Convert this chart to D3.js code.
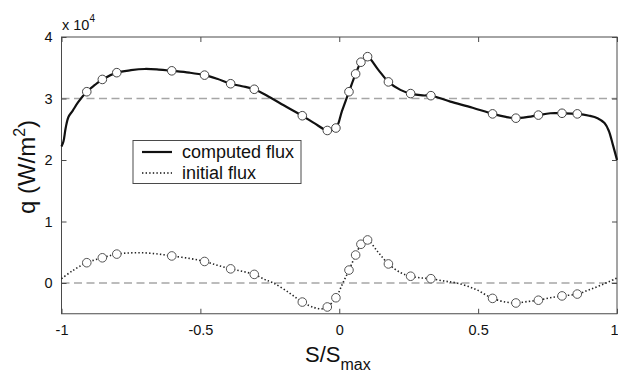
<!DOCTYPE html>
<html>
<head>
<meta charset="utf-8">
<script src="https://cdn.jsdelivr.net/npm/d3@7"></script>
<style>
  html, body { margin: 0; padding: 0; background: #fff; }
  svg { display: block; font-family: "Liberation Sans", Arial, Helvetica, sans-serif; }
</style>
</head>
<body>
<svg id="chart" width="618" height="373"></svg>
<script>
// Normalised arc length S/Smax and heat flux q (units of 1e4 W/m^2)
const computedS = [-1.000, -0.993, -0.985, -0.975, -0.960, -0.940, -0.909, -0.880, -0.853, -0.801,
  -0.750, -0.700, -0.650, -0.603, -0.540, -0.485, -0.440, -0.391, -0.350, -0.306,
  -0.250, -0.200, -0.133, -0.090, -0.043, -0.012, 0.010, 0.035, 0.059, 0.078,
  0.090, 0.102, 0.140, 0.177, 0.220, 0.257, 0.300, 0.330, 0.400, 0.480,
  0.552, 0.600, 0.636, 0.680, 0.717, 0.760, 0.802, 0.857, 0.900, 0.930,
  0.955, 0.970, 0.985, 1.000];
const computedQ = [2.22, 2.30, 2.52, 2.70, 2.80, 2.94, 3.11, 3.22, 3.31, 3.42,
  3.46, 3.48, 3.47, 3.45, 3.42, 3.38, 3.32, 3.24, 3.20, 3.15,
  3.02, 2.89, 2.72, 2.60, 2.48, 2.52, 2.80, 3.11, 3.40, 3.59,
  3.65, 3.68, 3.47, 3.27, 3.14, 3.08, 3.05, 3.046, 2.95, 2.85,
  2.75, 2.70, 2.68, 2.70, 2.73, 2.76, 2.76, 2.75, 2.72, 2.68,
  2.60, 2.48, 2.25, 2.00];

const initialS = [-1.000, -0.960, -0.909, -0.853, -0.801, -0.750, -0.700, -0.650, -0.603, -0.540,
  -0.485, -0.440, -0.391, -0.350, -0.306, -0.270, -0.237, -0.180, -0.133, -0.090,
  -0.060, -0.043, -0.012, 0.010, 0.035, 0.059, 0.078, 0.090, 0.102, 0.140,
  0.177, 0.220, 0.257, 0.300, 0.330, 0.380, 0.423, 0.490, 0.552, 0.600,
  0.636, 0.680, 0.717, 0.760, 0.802, 0.857, 0.900, 0.950, 1.000];
const initialQ = [0.07, 0.20, 0.33, 0.41, 0.47, 0.49, 0.49, 0.47, 0.44, 0.40,
  0.35, 0.29, 0.23, 0.19, 0.14, 0.06, 0.00, -0.16, -0.31, -0.40,
  -0.42, -0.39, -0.24, -0.03, 0.21, 0.455, 0.63, 0.68, 0.70, 0.50,
  0.31, 0.17, 0.11, 0.08, 0.07, 0.03, 0.00, -0.10, -0.25, -0.31,
  -0.325, -0.30, -0.28, -0.24, -0.21, -0.18, -0.11, -0.02, 0.08];

// Sensor locations (circle markers) and the flux at each
const sensorS = [-0.909, -0.853, -0.801, -0.603, -0.485, -0.391, -0.306, -0.133, -0.043, -0.012,
  0.035, 0.059, 0.078, 0.102, 0.177, 0.257, 0.330, 0.552, 0.636, 0.717, 0.802, 0.857];
const sensorComputed = [3.11, 3.31, 3.42, 3.45, 3.38, 3.24, 3.15, 2.72, 2.48, 2.52,
  3.11, 3.40, 3.59, 3.68, 3.27, 3.08, 3.046, 2.75, 2.68, 2.73, 2.76, 2.75];
const sensorInitial = [0.33, 0.41, 0.47, 0.44, 0.35, 0.23, 0.14, -0.31, -0.39, -0.24,
  0.21, 0.455, 0.63, 0.70, 0.31, 0.11, 0.07, -0.25, -0.325, -0.28, -0.21, -0.18];

const xTicks = [-1, -0.5, 0, 0.5, 1];
const yTicks = [0, 1, 2, 3, 4];
const referenceLevels = [0, 3];
const legendLabels = ["computed flux", "initial flux"];

const svg = d3.select("#chart");
const plotLeft = 61.5, plotRight = 617, plotTop = 37, plotBottom = 313.75;

const x = d3.scaleLinear().domain([-1, 1]).range([plotLeft, plotRight]);
const y = d3.scaleLinear().domain([-0.5, 4]).range([plotBottom, plotTop]);

const axisColor = "#4a4a4a";

// dashed reference levels
svg.append("g").selectAll("line").data(referenceLevels).join("line")
  .attr("x1", plotLeft).attr("x2", plotRight)
  .attr("y1", d => y(d)).attr("y2", d => y(d))
  .attr("stroke", "#a6a6a6").attr("stroke-width", 1.6)
  .attr("stroke-dasharray", "8,4.5");

// axes with inward ticks on all four sides
const tickLen = 5;
const fmt = d => String(d);
const gx = svg.append("g").attr("transform", `translate(0,${plotBottom})`)
  .call(d3.axisBottom(x).tickValues(xTicks).tickSize(-tickLen).tickPadding(11).tickFormat(fmt));
const gxTop = svg.append("g").attr("transform", `translate(0,${plotTop})`)
  .call(d3.axisTop(x).tickValues(xTicks).tickSize(-tickLen).tickFormat(""));
const gy = svg.append("g").attr("transform", `translate(${plotLeft},0)`)
  .call(d3.axisLeft(y).tickValues(yTicks).tickSize(-tickLen).tickPadding(9).tickFormat(fmt));
const gyRight = svg.append("g").attr("transform", `translate(${plotRight},0)`)
  .call(d3.axisRight(y).tickValues(yTicks).tickSize(-tickLen).tickFormat(""));

[gx, gxTop, gy, gyRight].forEach(g => {
  g.select(".domain").remove();
  g.selectAll(".tick line").attr("stroke", axisColor);
  g.selectAll(".tick text").attr("fill", "#111").style("font-size", "14.5px")
    .style("font-family", "'Liberation Sans', Arial, sans-serif");
});
// keep the last x label inside the canvas edge
gx.selectAll(".tick text").filter(d => d === 1).attr("text-anchor", "end").attr("dx", 1);

// plot frame
svg.append("rect")
  .attr("x", plotLeft).attr("y", plotTop)
  .attr("width", plotRight - plotLeft).attr("height", plotBottom - plotTop)
  .attr("fill", "none").attr("stroke", axisColor).attr("stroke-width", 1);

// curves
const line = d3.line().x(d => x(d[0])).y(d => y(d[1])).curve(d3.curveCatmullRom.alpha(0.5));
const computedPts = computedS.map((s, i) => [s, computedQ[i]]);
const initialPts = initialS.map((s, i) => [s, initialQ[i]]);

svg.append("path").datum(initialPts).attr("d", line)
  .attr("fill", "none").attr("stroke", "#222").attr("stroke-width", 1.6)
  .attr("stroke-dasharray", "1.4,2.2");

svg.append("path").datum(computedPts).attr("d", line)
  .attr("fill", "none").attr("stroke", "#111").attr("stroke-width", 2.2)
  .attr("stroke-linejoin", "round");

// sensor markers
svg.append("g").selectAll("circle").data(sensorS).join("circle")
  .attr("cx", d => x(d)).attr("cy", (d, i) => y(sensorInitial[i])).attr("r", 4.3)
  .attr("fill", "#fff").attr("stroke", "#555").attr("stroke-width", 1);
svg.append("g").selectAll("circle").data(sensorS).join("circle")
  .attr("cx", d => x(d)).attr("cy", (d, i) => y(sensorComputed[i])).attr("r", 4.3)
  .attr("fill", "#fff").attr("stroke", "#444").attr("stroke-width", 1);

// exponent marker above the y axis
const expo = svg.append("text").attr("x", 62).attr("y", 30)
  .style("font-size", "14.5px").attr("fill", "#111");
expo.append("tspan").text("x 10");
expo.append("tspan").attr("dy", -8).style("font-size", "10px").text("4");

// axis titles
const xt = svg.append("text").attr("x", 305).attr("y", 362)
  .style("font-size", "22px").attr("fill", "#111");
xt.append("tspan").text("S/S");
xt.append("tspan").attr("dy", 8).style("font-size", "16px").text("max");

const yt = svg.append("text")
  .attr("transform", "translate(35,167) rotate(-90)")
  .attr("text-anchor", "middle")
  .style("font-size", "24px").attr("fill", "#111");
yt.append("tspan").text("q (W/m");
yt.append("tspan").attr("dy", -10).style("font-size", "16px").text("2");
yt.append("tspan").attr("dy", 10).text(")");

// legend
const lg = svg.append("g");
lg.append("rect").attr("x", 133).attr("y", 140.5).attr("width", 168).attr("height", 43)
  .attr("fill", "#fff").attr("stroke", axisColor).attr("stroke-width", 1);
const legendStyles = [
  { dash: null, width: 2.2 },
  { dash: "1.4,2.2", width: 1.4 }
];
legendLabels.forEach((label, i) => {
  const ly = 152 + i * 21;
  lg.append("line").attr("x1", 142).attr("x2", 172).attr("y1", ly).attr("y2", ly)
    .attr("stroke", "#111").attr("stroke-width", legendStyles[i].width)
    .attr("stroke-dasharray", legendStyles[i].dash);
  lg.append("text").attr("x", 182).attr("y", ly + 6)
    .style("font-size", "18px").attr("fill", "#111").text(label);
});
</script>
</body>
</html>
